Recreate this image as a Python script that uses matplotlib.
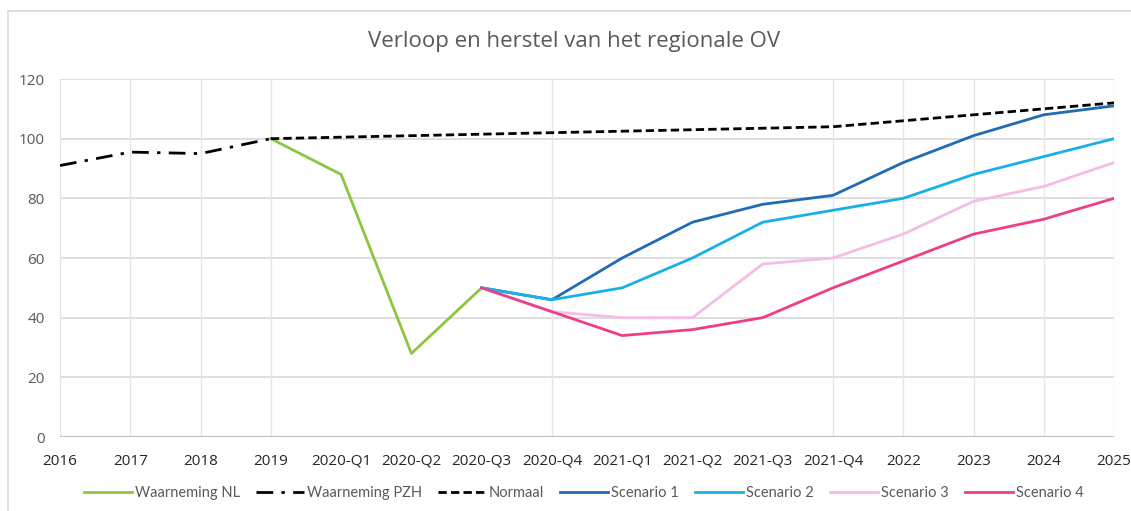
#!/usr/bin/env python3
"""Verloop en herstel van het regionale OV - line chart."""

import numpy as np
import matplotlib
matplotlib.use("Agg")
import matplotlib.pyplot as plt
from matplotlib.patches import Rectangle

nan = np.nan

periods = ["2016", "2017", "2018", "2019", "2020-Q1", "2020-Q2", "2020-Q3",
           "2020-Q4", "2021-Q1", "2021-Q2", "2021-Q3", "2021-Q4", "2022",
           "2023", "2024", "2025"]

waarneming_nl = [nan, nan, nan, 100, 88, 28, 50, nan, nan, nan, nan, nan, nan, nan, nan, nan]
waarneming_pzh = [91, 95.5, 95, 100, nan, nan, nan, nan, nan, nan, nan, nan, nan, nan, nan, nan]
normaal = [nan, nan, nan, 100, 100.5, 101, 101.5, 102, 102.5, 103, 103.5, 104, 106, 108, 110, 112]
scenario_1 = [nan, nan, nan, nan, nan, nan, 50, 46, 60, 72, 78, 81, 92, 101, 108, 111]
scenario_2 = [nan, nan, nan, nan, nan, nan, 50, 46, 50, 60, 72, 76, 80, 88, 94, 100]
scenario_3 = [nan, nan, nan, nan, nan, nan, 50, 42, 40, 40, 58, 60, 68, 79, 84, 92]
scenario_4 = [nan, nan, nan, nan, nan, nan, 50, 42, 34, 36, 40, 50, 59, 68, 73, 80]

# vertical gridlines only shown at these categories in the original
vgrid_idx = [0, 1, 2, 3, 7, 11, 12, 13, 14, 15]

FONT = ["Open Sans", "DejaVu Sans"]
plt.rcParams["font.family"] = FONT

fig = plt.figure(figsize=(11.31, 5.11), dpi=100)
ax = fig.add_axes([0.0531, 0.1448, 0.985 - 0.0531, 0.8454 - 0.1448])

# chart area border
fig.patches.append(Rectangle((8 / 1131, -0.1), 1.2, 1 - 11 / 511 + 0.1,
                             transform=fig.transFigure, fill=False,
                             edgecolor="#D9D9D9", linewidth=1.2))

x = np.arange(len(periods))
lw = 2.0

ax.plot(x, waarneming_nl, color="#8CC63F", lw=lw, label="Waarneming NL", zorder=3)
ax.plot(x, waarneming_pzh, color="black", lw=lw, dashes=(6, 3, 1.2, 3),
        label="Waarneming PZH", zorder=3)
ax.plot(x, normaal, color="black", lw=lw, dashes=(3, 1.5), label="Normaal", zorder=3)
ax.plot(x, scenario_1, color="#1F6CB5", lw=lw, label="Scenario 1", zorder=3)
ax.plot(x, scenario_2, color="#19B0EA", lw=lw, label="Scenario 2", zorder=4)
ax.plot(x, scenario_3, color="#F5BDE6", lw=lw, label="Scenario 3", zorder=3)
ax.plot(x, scenario_4, color="#EE3F86", lw=lw, label="Scenario 4", zorder=5)

ax.set_xlim(0, len(periods) - 1)
ax.set_ylim(0, 120)
ax.set_yticks(range(0, 121, 20))
ax.set_xticks(x)
ax.set_xticklabels(periods)

for yv in range(20, 121, 20):
    ax.axhline(yv, color="#D9D9D9", lw=1.2, zorder=1)
for i in vgrid_idx:
    ax.axvline(i, color="#E6E6E6", lw=1.0, zorder=1)
ax.axhline(0, color="#BFBFBF", lw=1.5, zorder=2)

for s in ax.spines.values():
    s.set_visible(False)
ax.tick_params(length=0)
ax.tick_params(axis="y", labelsize=11, labelcolor="#595959", pad=11)
ax.tick_params(axis="x", labelsize=11, labelcolor="#262626", pad=12)

fig.text(0.508, 1 - 42 / 511, "Verloop en herstel van het regionale OV",
         ha="center", va="center", fontsize=16, color="#595959")

fig.legend(loc="center", bbox_to_anchor=(0.516, 0.035), ncol=7, frameon=False,
           handlelength=3.3, handletextpad=0.2, columnspacing=1.1,
           prop={"family": ["Lato", "DejaVu Sans"], "size": 10.5},
           labelcolor="#595959")

fig.savefig("out.png", dpi=100, facecolor="white")
